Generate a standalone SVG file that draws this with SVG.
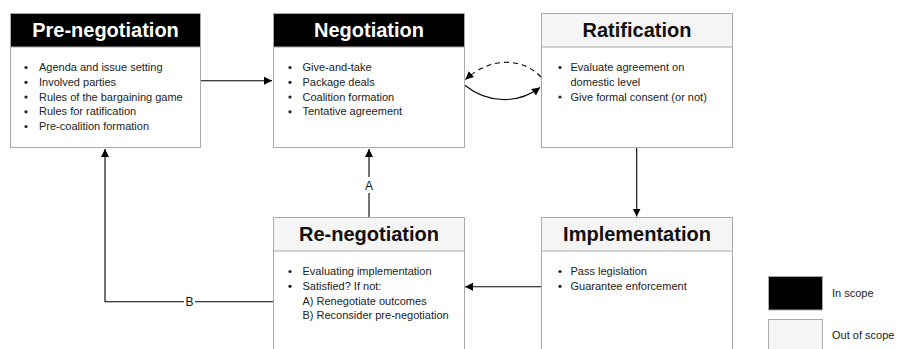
<svg xmlns="http://www.w3.org/2000/svg" width="897" height="349" viewBox="0 0 897 349">
  <defs>
    <marker id="arrow" markerUnits="userSpaceOnUse" markerWidth="10" markerHeight="9" refX="8" refY="4" orient="auto">
      <path d="M0,0 L8,4 L0,8 z" fill="#000"/>
    </marker>
    <style>
      .box { fill: #fff; stroke: #aaa; stroke-width: 1; }
      .head-in { fill: #000; stroke: #aaa; stroke-width: 1; }
      .head-out { fill: #f5f5f5; stroke: #aaa; stroke-width: 1; }
      .title { font-family: "Liberation Sans", Arial, sans-serif; font-weight: bold; font-size: 20px; text-anchor: middle; }
      .title-in { fill: #fff; }
      .title-out { fill: #111; }
      .body { font-family: "Liberation Sans", Arial, sans-serif; font-size: 11px; fill: #222; }
      .dot { fill: #222; }
      .edge { fill: none; stroke: #000; stroke-width: 1.1; }
      .dashed { stroke-dasharray: 5 4; }
      .lbl { font-family: "Liberation Sans", Arial, sans-serif; font-size: 12px; fill: #111; text-anchor: middle; }
    </style>
  </defs>

  <!-- connectors -->
  <g id="connectors">
    <path class="edge" d="M201,80.7 L272,80.7" marker-end="url(#arrow)"/>
    <path class="edge dashed" d="M541,77 C522,57 490,57 465.5,79.5" marker-end="url(#arrow)"/>
    <path class="edge" d="M464.5,85 C488,104 518,104 540,87.5" marker-end="url(#arrow)"/>
    <path class="edge" d="M636.7,148 L636.7,216.5" marker-end="url(#arrow)"/>
    <path class="edge" d="M541.5,286.7 L465,286.7" marker-end="url(#arrow)"/>
    <path class="edge" d="M369,217 L369,193 M369,177 L369,149" marker-end="url(#arrow)"/>
    <text class="lbl" x="369" y="190">A</text>
    <path class="edge" d="M273,301.7 L195,301.7 M184,301.7 L105,301.7 L105,149" marker-end="url(#arrow)"/>
    <text class="lbl" x="189.5" y="306">B</text>
  </g>

  <!-- Pre-negotiation -->
  <g id="pre-negotiation">
    <rect class="box" x="10.5" y="13.5" width="190" height="134"/>
    <rect class="head-in" x="10.5" y="13.5" width="190" height="33.5"/>
    <text class="title title-in" x="105.5" y="37">Pre-negotiation</text>
    <g class="dot">
      <circle cx="26" cy="67.5" r="1.6"/>
      <circle cx="26" cy="82.3" r="1.6"/>
      <circle cx="26" cy="97" r="1.6"/>
      <circle cx="26" cy="111.8" r="1.6"/>
      <circle cx="26" cy="126.5" r="1.6"/>
    </g>
    <text class="body" x="39" y="71">Agenda and issue setting</text>
    <text class="body" x="39" y="85.8">Involved parties</text>
    <text class="body" x="39" y="100.5">Rules of the bargaining game</text>
    <text class="body" x="39" y="115.3">Rules for ratification</text>
    <text class="body" x="39" y="130">Pre-coalition formation</text>
  </g>

  <!-- Negotiation -->
  <g id="negotiation">
    <rect class="box" x="273.5" y="13.5" width="191" height="134"/>
    <rect class="head-in" x="273.5" y="13.5" width="191" height="33.5"/>
    <text class="title title-in" x="369" y="37">Negotiation</text>
    <g class="dot">
      <circle cx="290" cy="67.5" r="1.6"/>
      <circle cx="290" cy="82.3" r="1.6"/>
      <circle cx="290" cy="97" r="1.6"/>
      <circle cx="290" cy="111.8" r="1.6"/>
    </g>
    <text class="body" x="302.5" y="71">Give-and-take</text>
    <text class="body" x="302.5" y="85.8">Package deals</text>
    <text class="body" x="302.5" y="100.5">Coalition formation</text>
    <text class="body" x="302.5" y="115.3">Tentative agreement</text>
  </g>

  <!-- Ratification -->
  <g id="ratification">
    <rect class="box" x="541.5" y="13.5" width="191" height="134"/>
    <rect class="head-out" x="541.5" y="13.5" width="191" height="33.5"/>
    <text class="title title-out" x="637" y="37">Ratification</text>
    <g class="dot">
      <circle cx="560" cy="67.5" r="1.6"/>
      <circle cx="560" cy="97" r="1.6"/>
    </g>
    <text class="body" x="570.5" y="71">Evaluate agreement on</text>
    <text class="body" x="570.5" y="85.8">domestic level</text>
    <text class="body" x="570.5" y="100.5">Give formal consent (or not)</text>
  </g>

  <!-- Implementation -->
  <g id="implementation">
    <rect class="box" x="541.5" y="217.5" width="191" height="140"/>
    <rect class="head-out" x="541.5" y="217.5" width="191" height="33.5"/>
    <text class="title title-out" x="637" y="241">Implementation</text>
    <g class="dot">
      <circle cx="560" cy="271.5" r="1.6"/>
      <circle cx="560" cy="286.3" r="1.6"/>
    </g>
    <text class="body" x="570.5" y="275">Pass legislation</text>
    <text class="body" x="570.5" y="289.8">Guarantee enforcement</text>
  </g>

  <!-- Re-negotiation -->
  <g id="re-negotiation">
    <rect class="box" x="273.5" y="217.5" width="191" height="140"/>
    <rect class="head-out" x="273.5" y="217.5" width="191" height="33.5"/>
    <text class="title title-out" x="369" y="241">Re-negotiation</text>
    <g class="dot">
      <circle cx="290" cy="271.5" r="1.6"/>
      <circle cx="290" cy="286.3" r="1.6"/>
    </g>
    <text class="body" x="302.5" y="275">Evaluating implementation</text>
    <text class="body" x="302.5" y="289.8">Satisfied? If not:</text>
    <text class="body" x="302.5" y="304.5">A) Renegotiate outcomes</text>
    <text class="body" x="302.5" y="319.3">B) Reconsider pre-negotiation</text>
  </g>

  <!-- Legend -->
  <g id="legend">
    <rect x="768.5" y="276.5" width="54" height="33.5" fill="#000" stroke="#aaa"/>
    <text class="body" x="832" y="297">In scope</text>
    <rect x="768.5" y="319.5" width="54" height="40" fill="#f5f5f5" stroke="#aaa"/>
    <text class="body" x="832" y="339">Out of scope</text>
  </g>
</svg>
